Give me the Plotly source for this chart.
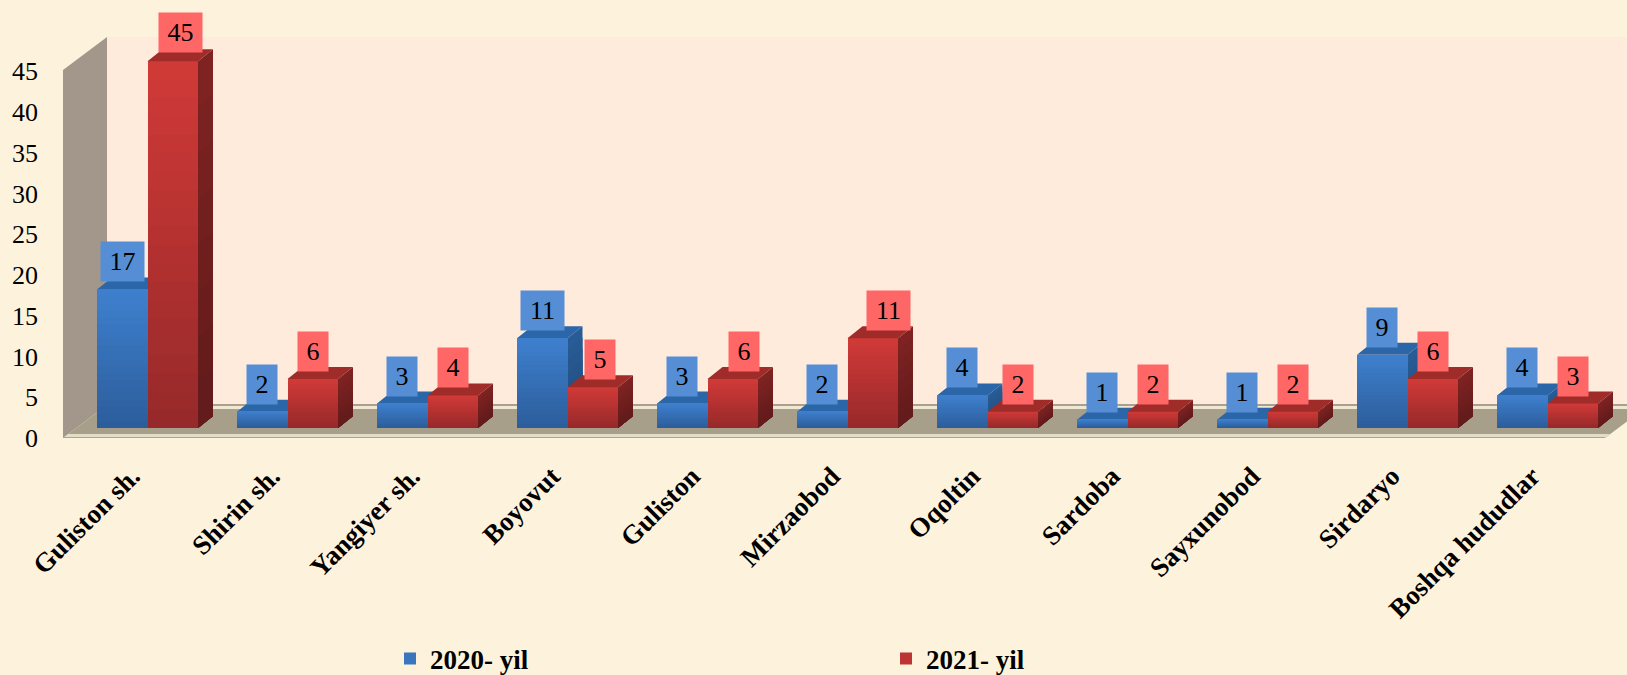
import numpy as np
import plotly.graph_objects as go

categories = ["Guliston sh.", "Shirin sh.", "Yangiyer sh.", "Boyovut", "Guliston", "Mirzaobod",
              "Oqoltin", "Sardoba", "Sayxunobod", "Sirdaryo", "Boshqa hududlar"]
values_2020 = [17, 2, 3, 11, 3, 2, 4, 1, 1, 9, 4]
values_2021 = [45, 6, 4, 5, 6, 11, 2, 2, 2, 6, 3]
y_ticks = [0, 5, 10, 15, 20, 25, 30, 35, 40, 45]
series_names = ["2020- yil", "2021- yil"]

W, H = 1627, 675
L, B = 63, 237
PX_X = 140.0
PX_Y = 8.15
x0 = -(147.5 - L) / PX_X
x1 = (W - 147.5) / PX_X
ytop = (H - B) / PX_Y
def ux(px): return px / PX_X
def uy(px): return px / PX_Y
def X(px): return (px - 147.5) / PX_X
def Y(px): return (H - B - px) / PX_Y

BASE = uy(10)
BW = ux(50.5)
DX, DY = ux(15), uy(12)
SERIF = "Liberation Serif"
idx = np.arange(len(categories))
OFF = BW / 2

fig = go.Figure()

def lerp(c1, c2, f):
    a = np.array(c1); b = np.array(c2)
    r = a + (b - a) * f
    return "rgb(%d,%d,%d)" % tuple(r.round().astype(int))

def poly(xs, ys, color, axes=("x", "y")):
    fig.add_trace(go.Scatter(x=xs, y=ys, mode="lines", fill="toself", fillcolor=color,
                             line=dict(width=0, color=color), hoverinfo="skip",
                             showlegend=False, xaxis=axes[0], yaxis=axes[1]))

# walls and floor
poly([X(107), X(1700), X(1700), X(107)], [Y(37), Y(37), Y(405), Y(405)], "#FEEBDC")
poly([X(63), X(107), X(107), X(63)], [Y(70), Y(37), Y(405), Y(438)], "#A3978B")
poly([X(63), X(107), X(1649), X(1605)], [Y(438), Y(405), Y(405), Y(438)], "#A89F8B")
poly([X(107), X(1649), X(1644), X(101)], [Y(405), Y(405), Y(409), Y(409)], "#F1E8D2")
poly([X(107), X(1649), X(1649), X(107)], [Y(404), Y(404), Y(406), Y(406)], "#A89F92")
poly([X(68), X(1610), X(1605), X(63)], [Y(434), Y(434), Y(438), Y(438)], "#E3DCC6")
poly([X(63), X(1605), X(1605), X(63)], [Y(437), Y(437), Y(439), Y(439)], "#A6A69E")

def faces(vals, centers, side_top, side_bot, top, axes):
    # each side band runs down to the floor and is painted over by the next one
    N = 8
    for k in range(N):
        sx, sy = [], []
        for c, v in zip(centers, vals):
            r = c + OFF
            hi = BASE + v * (1 - k / N)
            sx += [r, r + DX, r + DX, r, r, None]
            sy += [BASE, BASE + DY, hi + DY, hi, BASE, None]
        poly(sx, sy, lerp(side_top, side_bot, k / (N - 1)), axes)
    tx, ty = [], []
    for c, v in zip(centers, vals):
        l, r = c - OFF, c + OFF
        t = BASE + v
        tx += [l, l + DX, r + DX, r, l, None]
        ty += [t, t + DY, t + DY, t, t, None]
    poly(tx, ty, top, axes)

centers_a = idx - OFF
centers_b = idx + OFF

# 2020 depth faces lie behind the 2021 bars
faces(values_2020, centers_a, (40, 92, 150), (33, 76, 124), "#2B66A8", ("x", "y"))

def front(vals, centers, name, top_c, bot_c, main):
    fig.add_trace(go.Bar(x=centers, y=vals, base=[BASE] * len(vals), width=BW, name=name,
                         marker=dict(color=main, line=dict(width=0)), xaxis="x2", yaxis="y2",
                         hovertemplate="%{y}<extra>" + name + "</extra>"))
    N = 20
    bx, by, bb, bc = [], [], [], []
    for c, v in zip(centers, vals):
        for k in range(N):
            bx.append(c)
            by.append(v / N)
            bb.append(BASE + v - v * (k + 1) / N)
            bc.append(lerp(top_c, bot_c, k / (N - 1)))
    fig.add_trace(go.Bar(x=bx, y=by, base=bb, width=BW, marker=dict(color=bc, line=dict(width=0)),
                         showlegend=False, hoverinfo="skip", xaxis="x2", yaxis="y2"))

front(values_2020, centers_a, series_names[0], (62, 127, 205), (44, 94, 156), "#3A76BD")
front(values_2021, centers_b, series_names[1], (207, 58, 55), (152, 41, 42), "#BC3433")
faces(values_2021, centers_b, (126, 35, 34), (99, 27, 27), "#A02C2A", ("x2", "y2"))

# data labels
red_shift = [8, 0, 0, 7, 11, 16, 5, 0, 0, 0, 0]
ann = []
for i in idx:
    for vals, c, col, sh in ((values_2020, centers_a[i], "#558ED5", 0),
                             (values_2021, centers_b[i], "#FF6767", red_shift[i])):
        v = vals[i]
        ann.append(dict(x=c, y=BASE + v, xref="x", yref="y", text=str(v), showarrow=False,
                        bgcolor=col, borderpad=0, width=43 if v >= 10 else 30, height=39,
                        xanchor="center", yanchor="middle", align="center", valign="middle",
                        xshift=float(sh), yshift=29.0 if v == 45 else 27.5,
                        font=dict(family=SERIF, size=26, color="black")))

fig.update_layout(
    width=W, height=H, margin=dict(l=L, r=0, t=0, b=B), autosize=False,
    paper_bgcolor="#FDF3DD", plot_bgcolor="rgba(0,0,0,0)",
    barmode="overlay", bargap=0, showlegend=True, annotations=ann,
    font=dict(family=SERIF, color="black"),
    xaxis=dict(range=[x0, x1], tickmode="array", tickvals=idx - 0.11, ticktext=categories, tickangle=-45,
               tickfont=dict(family=SERIF, size=27, color="black", weight="bold"), showgrid=False,
               zeroline=False, showline=False, ticks="", ticklabelstandoff=16, automargin=False),
    yaxis=dict(range=[0, ytop], tickmode="array", tickvals=y_ticks, showgrid=False, zeroline=False,
               showline=False, ticks="", tickfont=dict(family=SERIF, size=26, color="black"),
               ticklabelstandoff=24, automargin=False),
    xaxis2=dict(overlaying="x", range=[x0, x1], visible=False),
    yaxis2=dict(overlaying="y", range=[0, ytop], visible=False),
    legend=dict(orientation="h", x=(390 - L) / (W - L), y=16 / 675, yref="container", xanchor="left", yanchor="middle",
                entrywidth=451, entrywidthmode="pixels", bgcolor="rgba(0,0,0,0)",
                traceorder="normal", font=dict(family=SERIF, size=27, color="black", weight="bold")),
)
fig.write_html("out.html", post_script="document.body.style.margin='0';",
               config=dict(displayModeBar=False))
